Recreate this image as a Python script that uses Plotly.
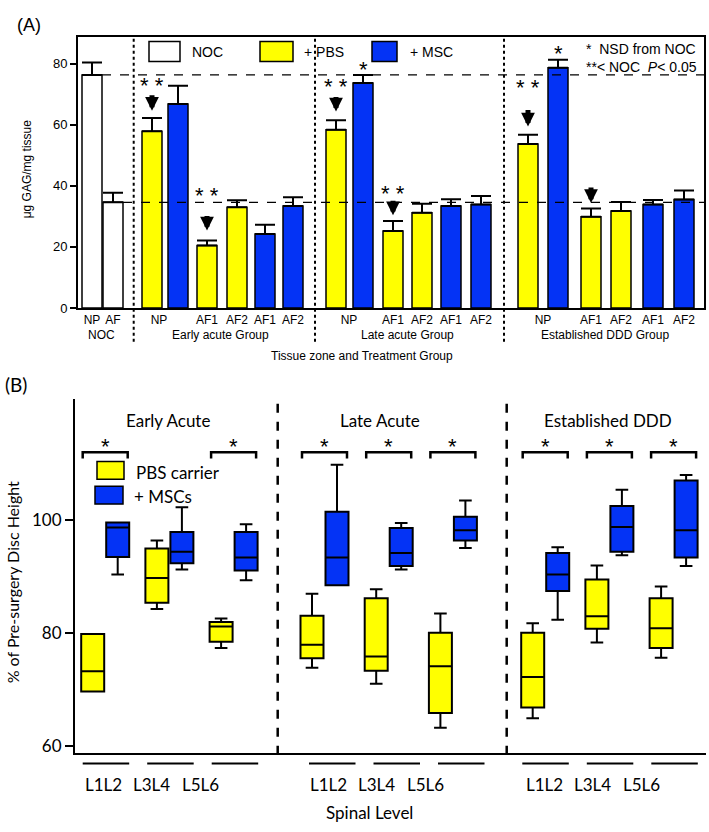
import plotly.graph_objects as go

W, H = 709, 832
def px(x):
    return x / W
def py(y):
    return 1 - y / H

FA = "Liberation Sans"
FB = "Lato"
YEL = "#FFFF00"
BLU = "#0433F5"

# ---------------- Panel A data ----------------
noc_labels = ["NP", "AF"]
noc_vals = [76.3, 34.6]
noc_err = [4.1, 3.1]

grp_names_a = ["Early acute Group", "Late acute Group", "Established DDD Group"]
pbs_labels = ["NP", "AF1", "AF2"] * 3
pbs_vals = [57.9, 20.5, 33.0, 58.4, 25.2, 31.2, 53.7, 29.9, 31.8]
pbs_err = [4.3, 1.6, 2.3, 3.1, 3.3, 2.9, 3.0, 2.7, 2.9]
msc_labels = ["NP", "AF1", "AF2"] * 3
msc_vals = [66.8, 24.2, 33.4, 73.7, 33.4, 33.9, 78.7, 33.9, 35.5]
msc_err = [6.0, 3.1, 2.9, 2.6, 2.2, 2.8, 2.6, 1.5, 3.0]

# layout (bar slot positions along the x axis of panel A)
noc_x = [92, 113]
pbs_x = [152, 207, 237, 336, 393, 422, 528, 591, 621]
msc_x = [178, 265, 293, 363, 451, 481, 558, 653, 684]
np_label_x = [159, 349, 543]

# ---------------- Panel B data ----------------
levels = ["L1L2", "L3L4", "L5L6"]
grp_names_b = ["Early Acute", "Late Acute", "Established DDD"]
pbs_q1 = [69.6, 85.3, 78.4, 75.5, 73.3, 65.8, 66.8, 80.7, 77.3]
pbs_med = [73.2, 89.7, 81.1, 77.9, 75.8, 74.1, 72.2, 82.9, 80.8]
pbs_q3 = [79.8, 94.9, 81.9, 83.0, 86.1, 80.0, 80.0, 89.4, 86.1]
pbs_lo = [69.6, 84.2, 77.3, 73.8, 71.0, 63.2, 64.9, 78.3, 75.6]
pbs_hi = [79.8, 96.3, 82.5, 86.9, 87.7, 83.4, 81.7, 91.9, 88.2]
msc_q1 = [93.4, 92.3, 91.0, 88.4, 91.8, 96.3, 87.4, 94.3, 93.3]
msc_med = [98.6, 94.3, 93.3, 93.3, 94.1, 98.1, 90.3, 98.7, 98.1]
msc_q3 = [99.5, 97.8, 97.8, 101.4, 98.5, 100.5, 94.1, 102.4, 106.9]
msc_lo = [90.3, 91.2, 89.3, 88.4, 91.2, 95.0, 82.3, 93.7, 91.8]
msc_hi = [99.5, 102.2, 99.2, 109.7, 99.4, 103.4, 95.1, 105.3, 107.9]

grp_base_b = [92.7, 312.0, 532.7]
lvl_step_b = 64.2
pair_gap_b = 25.0
box_pbs_x = [grp_base_b[g] + lvl_step_b * l for g in range(3) for l in range(3)]
box_msc_x = [x + pair_gap_b for x in box_pbs_x]

fig = go.Figure()

# ---- Panel A bars ----
bar_line = dict(color="black", width=1.5)
err_style = dict(type="data", symmetric=False, color="black", thickness=2, width=10)
fig.add_trace(go.Bar(x=noc_x, y=noc_vals, width=20, marker=dict(color="white", line=bar_line),
                     error_y=dict(array=noc_err, arrayminus=[0] * 2, **err_style),
                     xaxis="x", yaxis="y", showlegend=False))
fig.add_trace(go.Bar(x=pbs_x, y=pbs_vals, width=20, marker=dict(color=YEL, line=bar_line),
                     error_y=dict(array=pbs_err, arrayminus=[0] * 9, **err_style),
                     xaxis="x", yaxis="y", showlegend=False))
fig.add_trace(go.Bar(x=msc_x, y=msc_vals, width=20, marker=dict(color=BLU, line=bar_line),
                     error_y=dict(array=msc_err, arrayminus=[0] * 9, **err_style),
                     xaxis="x", yaxis="y", showlegend=False))

# tick labels for panel A
tick_x = list(noc_x)
tick_t = list(noc_labels)
for g in range(3):
    tick_x += [np_label_x[g]] + pbs_x[3 * g + 1:3 * g + 3] + msc_x[3 * g + 1:3 * g + 3]
    tick_t += [pbs_labels[3 * g]] + pbs_labels[3 * g + 1:3 * g + 3] + msc_labels[3 * g + 1:3 * g + 3]

# ---- Panel B boxes ----
box_line = dict(color="black", width=2)
fig.add_trace(go.Box(x=box_pbs_x, q1=pbs_q1, median=pbs_med, q3=pbs_q3,
                     lowerfence=pbs_lo, upperfence=pbs_hi, width=23, whiskerwidth=0.55,
                     fillcolor=YEL, line=box_line, boxpoints=False,
                     xaxis="x2", yaxis="y2", showlegend=False))
fig.add_trace(go.Box(x=box_msc_x, q1=msc_q1, median=msc_med, q3=msc_q3,
                     lowerfence=msc_lo, upperfence=msc_hi, width=23, whiskerwidth=0.55,
                     fillcolor=BLU, line=box_line, boxpoints=False,
                     xaxis="x2", yaxis="y2", showlegend=False))

# significance brackets (panel B)
br_y0, br_y1 = 110.8, 111.9
sig_pairs = [0, 2, 3, 4, 5, 6, 7, 8]
bx, by = [], []
for i in sig_pairs:
    a, b = box_pbs_x[i] - 10, box_msc_x[i] + 10
    bx += [a, a, b, b, None]
    by += [br_y0, br_y1, br_y1, br_y0, None]
fig.add_trace(go.Scatter(x=bx, y=by, mode="lines", line=dict(color="black", width=2.5),
                         xaxis="x2", yaxis="y2", showlegend=False, hoverinfo="skip"))

ann = []
shapes = []

def note(text, x, y, size, family, xanchor="center", yanchor="middle", xref="paper",
         yref="paper", **kw):
    ann.append(dict(text=text, x=x, y=y, xref=xref, yref=yref, showarrow=False,
                    xanchor=xanchor, yanchor=yanchor,
                    font=dict(family=family, size=size, color="black"), **kw))

# ---- Panel A annotations ----
note("(A)", px(15), py(25), 18, FA, xanchor="left")
note("μg GAG/mg tissue", px(27), py(171), 12, FA, textangle=-90)
for name, cx in zip(["NOC"] + grp_names_a, [101, 220, 407, 605]):
    note(name, cx, py(338), 12, FA, xref="x")
note("Tissue zone and Treatment Group", px(362), py(359), 12, FA)
# legend A
for (x0, x1, col, lab, tx) in [(149, 180, "white", "NOC", 190), (260, 293, YEL, "+ PBS", 302),
                                (372, 397, BLU, "+ MSC", 408)]:
    shapes.append(dict(type="rect", xref="paper", yref="paper", x0=px(x0), x1=px(x1),
                       y0=py(62), y1=py(42), fillcolor=col, line=dict(color="black", width=1.5)))
    note(lab, px(tx), py(52), 14, FA, xanchor="left")
note("*  NSD from NOC<br>**< NOC  <i>P</i>< 0.05", px(584), py(59), 14, FA, xanchor="left",
     align="left")

# stars and arrows on panel A
def star(x, y, t, size=22):
    note(t, x, y, size, FA, xref="x", yref="y")

def arrow(x, ytip, length):
    ann.append(dict(text="", x=x, y=ytip, xref="x", yref="y", ax=0, ay=-length, showarrow=True,
                    arrowhead=2, arrowsize=0.55, arrowwidth=5, arrowcolor="black", standoff=0))

star(pbs_x[0], 72.8, "* *")
arrow(pbs_x[0], 64.6, 17)
star(pbs_x[1], 36.9, "* *")
arrow(pbs_x[1], 25.4, 16)
star(pbs_x[3], 72.5, "* *")
arrow(pbs_x[3], 64.3, 16)
star(msc_x[3], 78.0, "*")
star(pbs_x[4], 37.4, "* *")
arrow(pbs_x[4], 30.4, 16)
star(pbs_x[6], 72.2, "* *")
arrow(pbs_x[6], 59.4, 18)
star(msc_x[6], 83.4, "*")
arrow(pbs_x[7], 34.4, 17)

# reference dashed lines at NOC levels
for v, x0 in zip(noc_vals, [102, 123]):
    shapes.append(dict(type="line", xref="x", yref="y", x0=x0, x1=704, y0=v, y1=v,
                       line=dict(color="black", width=1.3, dash="dash")))
# dotted group separators
for xs in [133.7, 315, 504]:
    shapes.append(dict(type="line", xref="x", yref="paper", x0=xs, x1=xs, y0=py(345), y1=py(37),
                       line=dict(color="black", width=2, dash="dot")))

# ---- Panel B annotations ----
note("(B)", px(3), py(388), 19, FB, xanchor="left")
note("% of Pre-surgery Disc Height", px(12), py(588), 16, FB, textangle=-90)
for name, cx in zip(grp_names_b, [168, 380, 608]):
    note(name, px(cx), py(425), 17, FB)
for i in sig_pairs:
    note("*", (box_pbs_x[i] + box_msc_x[i]) / 2, 112.9, 22, FA, xref="x2", yref="y2")
# legend B
for (x0, x1, y0, y1, col, lab, tx, ty) in [(97, 124, 466, 484, YEL, "PBS carrier", 134, 477),
                                           (95, 123, 491, 509, BLU, "+ MSCs", 132, 501)]:
    shapes.append(dict(type="rect", xref="paper", yref="paper", x0=px(x0), x1=px(x1),
                       y0=py(y1), y1=py(y0), fillcolor=col, line=dict(color="black", width=1.5)))
    note(lab, px(tx), py(ty), 17, FB, xanchor="left")
# group separators B
for xs in [277.7, 506.7]:
    shapes.append(dict(type="line", xref="x2", yref="paper", x0=xs, x1=xs, y0=py(762), y1=py(400),
                       line=dict(color="black", width=2.5, dash="dash")))
# level underlines and labels
ul_start = [82.7, 309.0, 522.3]
lab_start = [103.3, 328.0, 544.3]
for g in range(3):
    for l in range(3):
        x0 = ul_start[g] + 64.5 * l
        shapes.append(dict(type="line", xref="x2", yref="paper", x0=x0, x1=x0 + 46.5,
                           y0=py(771), y1=py(771), line=dict(color="black", width=2)))
        note(levels[l], lab_start[g] + 48.5 * l, py(792), 17, FB, xref="x2")
note("Spinal Level", px(369), py(820), 17, FB)

fig.update_layout(
    width=W, height=H, margin=dict(l=0, r=0, t=0, b=0),
    paper_bgcolor="white", plot_bgcolor="white",
    barmode="overlay", boxmode="overlay",
    xaxis=dict(domain=[px(78), px(704)], range=[78, 704], showgrid=False, zeroline=False,
               showline=True, linecolor="black", linewidth=2, mirror=True,
               tickmode="array", tickvals=tick_x, ticktext=tick_t, ticks="",
               tickfont=dict(family=FA, size=12, color="black")),
    yaxis=dict(domain=[py(311), py(37)], range=[0, 88.85], showgrid=False, zeroline=False,
               showline=True, linecolor="black", linewidth=2, mirror=True,
               tickvals=[0, 20, 40, 60, 80], ticks="outside", ticklen=6, tickwidth=1.5,
               tickcolor="black", tickfont=dict(family=FA, size=13, color="black")),
    xaxis2=dict(domain=[px(75), px(706)], range=[75, 706], showgrid=False, zeroline=False,
                showline=True, linecolor="black", linewidth=2, showticklabels=False, ticks="",
                anchor="y2"),
    yaxis2=dict(domain=[py(760), py(403)], range=[58.8, 121.3], showgrid=False, zeroline=False,
                showline=True, linecolor="black", linewidth=2, tickvals=[60, 80, 100],
                ticks="outside", ticklen=8, tickwidth=2, tickcolor="black",
                tickfont=dict(family=FB, size=17, color="black"), anchor="x2"),
    annotations=ann, shapes=shapes,
)

fig.write_html("out.html", config={"displayModeBar": False},
               post_script="document.body.style.margin='0px';document.body.style.overflow='hidden';")
